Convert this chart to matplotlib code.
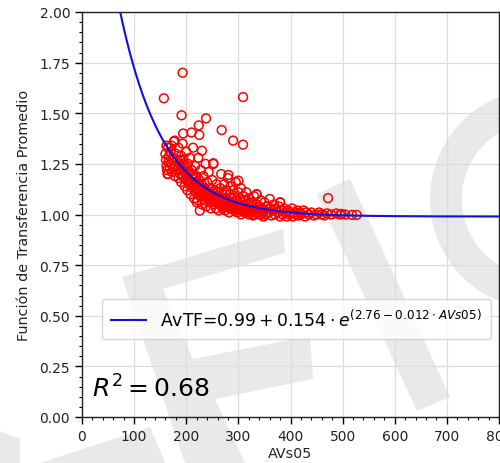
import numpy as np
import matplotlib
matplotlib.use("Agg")
import matplotlib.pyplot as plt
from matplotlib.patches import Polygon, PathPatch
import matplotlib.path as mpath
from matplotlib.ticker import MultipleLocator

# ---- data ----
avs05 = [157, 193, 191, 238, 309, 268, 290, 309, 224, 225, 194, 210, 178, 162, 230,
         252, 281, 300, 165, 226, 220, 335, 360, 380, 472,
         160, 161, 162, 163, 164, 165, 166, 167, 168, 170, 170, 172, 172, 175, 176,
         178, 178, 180, 182, 183, 185, 185, 187, 188, 190, 190, 192, 193, 195, 195,
         197, 198, 200, 200, 202, 203, 205, 205, 207, 208, 210, 210, 212, 213, 215,
         215, 217, 218, 220, 220, 222, 223, 225, 225, 227, 228, 230, 230, 232, 233,
         235, 235, 237, 238, 240, 240, 242, 243, 245, 245, 247, 248, 250, 250, 252,
         253, 255, 255, 257, 258, 260, 260, 262, 263, 265, 265, 267, 268, 270, 270,
         272, 273, 275, 275, 277, 278, 280, 280, 282, 283, 285, 285, 287, 288, 290,
         290, 292, 293, 295, 295, 297, 298, 300, 300, 302, 303, 305, 305, 307, 308,
         310, 310, 312, 313, 315, 315, 318, 320, 320, 322, 325, 325, 328, 330, 330,
         333, 335, 335, 338, 340, 340, 343, 345, 345, 348, 350, 350, 353, 355, 358,
         360, 363, 365, 368, 370, 372, 375, 378, 380, 380, 383, 385, 388, 390, 393,
         395, 398, 400, 403, 405, 408, 410, 413, 415, 418, 420, 425, 428, 430, 435,
         440, 445, 450, 455, 460, 465, 470, 478, 488, 495, 498, 505, 518, 527,
         185, 188, 190, 192, 195, 197, 200, 202, 204, 206, 208, 210, 212, 214, 216,
         218, 220, 222, 224, 226, 228, 230, 232, 234, 236, 238, 240, 242, 244, 246,
         248, 250, 252, 254, 256, 258, 260, 262, 264, 266, 268, 270, 272, 274, 276,
         278, 280, 282, 284, 286, 288, 290, 292, 294, 296, 298, 300, 303, 306, 309,
         312, 315, 318, 321, 324, 327, 331, 334, 337, 341, 344, 347, 352, 356]
avtf = [1.574, 1.70, 1.49, 1.475, 1.58, 1.417, 1.365, 1.345, 1.44, 1.393, 1.40, 1.405, 1.365, 1.34, 1.315,
        1.253, 1.195, 1.167, 1.20, 1.019, 1.06, 1.10, 1.077, 1.06, 1.081,
        1.30, 1.27, 1.24, 1.22, 1.20, 1.33, 1.26, 1.29, 1.23, 1.31, 1.25, 1.21, 1.34, 1.28, 1.36,
        1.24, 1.19, 1.30, 1.22, 1.27, 1.33, 1.18, 1.25, 1.20, 1.29, 1.16, 1.23, 1.35, 1.19, 1.27,
        1.14, 1.22, 1.31, 1.17, 1.12, 1.25, 1.20, 1.15, 1.28, 1.10, 1.18, 1.22, 1.13, 1.33, 1.16,
        1.08, 1.24, 1.11, 1.19, 1.14, 1.07, 1.28, 1.12, 1.17, 1.09, 1.22, 1.15, 1.05, 1.10, 1.19,
        1.13, 1.07, 1.25, 1.04, 1.11, 1.16, 1.08, 1.21, 1.06, 1.13, 1.03, 1.10, 1.17, 1.07, 1.25,
        1.05, 1.12, 1.09, 1.03, 1.15, 1.07, 1.11, 1.02, 1.09, 1.13, 1.05, 1.20, 1.08, 1.03, 1.10,
        1.06, 1.15, 1.02, 1.08, 1.12, 1.04, 1.07, 1.18, 1.01, 1.10, 1.05, 1.14, 1.03, 1.08, 1.06,
        1.12, 1.02, 1.09, 1.04, 1.16, 1.07, 1.01, 1.05, 1.11, 1.03, 1.08, 1.00, 1.13, 1.06, 1.02,
        1.04, 1.09, 1.01, 1.07, 1.03, 1.11, 1.05, 1.00, 1.08, 1.02, 1.04, 1.06, 0.995, 1.03, 1.09,
        1.01, 1.05, 1.10, 1.02, 1.00, 1.04, 1.07, 1.01, 1.03, 0.99, 1.02, 1.06, 1.00, 1.04, 1.01,
        1.03, 0.995, 1.02, 1.05, 1.00, 1.03, 1.01, 1.04, 0.99, 1.06, 1.02, 1.00, 1.03, 1.01, 0.99,
        1.02, 1.00, 1.01, 1.03, 0.99, 1.01, 1.00, 1.02, 0.995, 1.01, 1.00, 1.02, 0.99, 1.01, 1.00,
        1.01, 0.995, 1.00, 1.01, 1.00, 0.995, 1.005, 1.00, 1.005, 1.00, 1.0025, 1.00, 0.998, 0.998,
        1.24, 1.27, 1.22, 1.19, 1.24, 1.21, 1.19, 1.23, 1.17, 1.21, 1.16, 1.15, 1.19, 1.14, 1.18,
        1.13, 1.16, 1.12, 1.15, 1.11, 1.14, 1.12, 1.09, 1.13, 1.10, 1.12, 1.09, 1.11, 1.08, 1.10,
        1.07, 1.09, 1.11, 1.07, 1.08, 1.06, 1.09, 1.07, 1.05, 1.08, 1.06, 1.07, 1.04, 1.06, 1.05,
        1.07, 1.04, 1.06, 1.03, 1.05, 1.04, 1.03, 1.05, 1.03, 1.04, 1.02, 1.03, 1.04, 1.02, 1.03,
        1.02, 1.01, 1.02, 1.03, 1.01, 1.02, 1.00, 1.02, 1.01, 1.02, 1.00, 1.01, 1.00, 1.01]

# fitted model parameters (from the legend)
fit_a, fit_b, fit_c, fit_d = 0.99, 0.154, 2.76, 0.012
r2_value = 0.68

x_label = "AVs05"
y_label = "Función de Transferencia Promedio"
x_ticks = [0, 100, 200, 300, 400, 500, 600, 700, 800]
y_ticks = [0.00, 0.25, 0.50, 0.75, 1.00, 1.25, 1.50, 1.75, 2.00]

W, H = 500, 464
fig = plt.figure(figsize=(W / 100, H / 100), dpi=100)
fig.patch.set_facecolor("white")

def px(x, y):
    return (x / W, 1 - y / H)

# ---- watermark (light gray shapes behind the plot) ----
wm_color = "#e9e9e9"
wm_polys = [
    [(122, 278), (283, 230), (285, 254), (163, 290), (193, 360), (310, 337),
     (313, 380), (215, 400), (245, 464), (185, 464)],
    [(317, 195), (350, 180), (450, 398), (417, 412)],
    [(40, 464), (150, 428), (165, 464)],
    [(0, 432), (20, 440), (20, 464), (0, 464)],
]
for poly in wm_polys:
    fig.patches.append(Polygon([px(*p) for p in poly], closed=True,
                               transform=fig.transFigure, facecolor=wm_color,
                               edgecolor="none", zorder=-5))
theta = np.linspace(0, 2 * np.pi, 200)
r_out, r_in = 110, 78
outer = [(540 + r_out * np.cos(t), 200 + r_out * np.sin(t)) for t in theta]
inner = [(540 + r_in * np.cos(t), 200 + r_in * np.sin(t)) for t in theta[::-1]]
verts = [px(*p) for p in outer] + [px(*p) for p in inner]
codes = ([mpath.Path.MOVETO] + [mpath.Path.LINETO] * (len(outer) - 1) +
         [mpath.Path.MOVETO] + [mpath.Path.LINETO] * (len(inner) - 1))
fig.patches.append(PathPatch(mpath.Path(verts, codes), transform=fig.transFigure,
                             facecolor=wm_color, edgecolor="none", zorder=-5))

ax = fig.add_axes([82 / W, 1 - 418 / H, (499 - 82) / W, (418 - 13) / H])
ax.set_zorder(2)
ax.set_facecolor("none")

ax.scatter(avs05, avtf, s=40, facecolors="none", edgecolors="red",
           linewidths=1.1, zorder=3)

xs = np.linspace(0, 800, 800)
ax.plot(xs, fit_a + fit_b * np.exp(fit_c - fit_d * xs), color="#1010e0", lw=1.5,
        zorder=4,
        label=r"AvTF=$0.99+0.154\cdot e^{(2.76-0.012\cdot AVs05)}$")

ax.set_xlim(0, 800)
ax.set_ylim(0, 2.0)
ax.set_xticks(x_ticks)
ax.set_yticks(y_ticks)
ax.set_yticklabels([f"{v:.2f}" for v in y_ticks])
ax.xaxis.set_minor_locator(MultipleLocator(20))
ax.yaxis.set_minor_locator(MultipleLocator(0.05))
ax.tick_params(which="major", length=5, width=1, labelsize=10, color="black",
               labelcolor="#222222")
ax.tick_params(which="minor", length=2.5, width=0.8)
ax.grid(True, which="major", color="#dcdcdc", lw=0.9)
ax.set_axisbelow(True)
for s in ax.spines.values():
    s.set_color("#222222")
    s.set_linewidth(1.0)

ax.set_xlabel(x_label, fontsize=10.3, labelpad=2, color="#222222")
ax.set_ylabel(y_label, fontsize=10.4, labelpad=6, color="#222222")

leg = ax.legend(loc="center left", bbox_to_anchor=((102 - 82) / 417, (418 - 320) / 405),
                borderaxespad=0, fontsize=12.4, frameon=True, fancybox=True,
                handlelength=2.0, borderpad=0.55)
leg.get_frame().set_edgecolor("#cccccc")
leg.get_frame().set_alpha(0.8)

ax.text(19, 0.10, r"$R^2 = $" + f"${r2_value:.2f}$", fontsize=18, color="black")

fig.savefig("out.png", dpi=100)
